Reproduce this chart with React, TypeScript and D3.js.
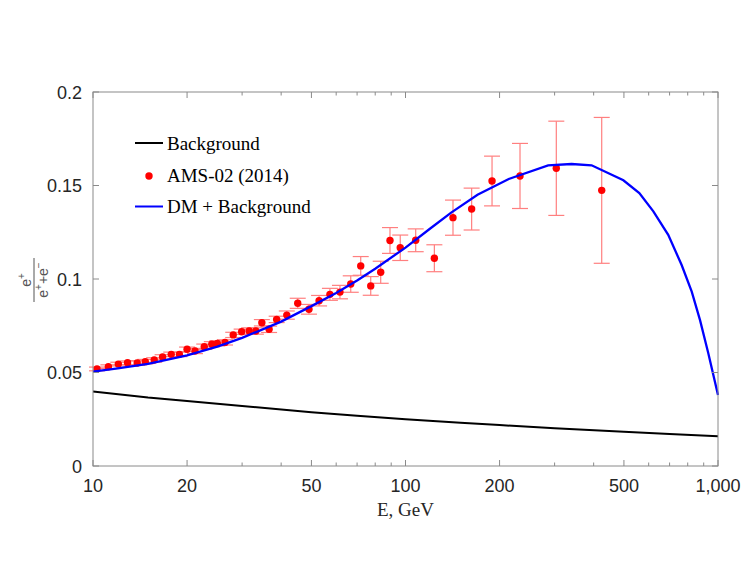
import * as d3 from "d3";

// AMS-02 (2014) positron fraction
const amsEnergy = [
  10.3, 11.2, 12.05, 12.9, 13.85, 14.7, 15.7, 16.7, 17.8, 18.9, 20.0, 21.2, 22.7, 24.0, 25.0,
  26.45, 28.1, 29.9, 31.6, 33.2, 34.7, 36.6, 38.7, 41.7, 45.2, 49.1, 52.9, 57.3, 61.7, 66.8,
  71.9, 77.4, 83.3, 89.2, 96.2, 107.8, 123.7, 141.9, 162.8, 189.2, 232.5, 303.8, 424.5,
];
const amsFraction = [
  0.0519, 0.0531, 0.0545, 0.0552, 0.0551, 0.0558, 0.0567, 0.0583, 0.0597, 0.0597, 0.0624, 0.0615,
  0.0638, 0.0651, 0.0656, 0.0661, 0.0701, 0.0718, 0.0722, 0.0722, 0.0766, 0.0731, 0.0784, 0.0807,
  0.087, 0.0838, 0.0884, 0.0918, 0.093, 0.0973, 0.107, 0.0963, 0.1036, 0.1206, 0.1167, 0.1207,
  0.1111, 0.1328, 0.1374, 0.1524, 0.1551, 0.1592, 0.1474,
];
const amsError = [
  0.001, 0.001, 0.001, 0.001, 0.0012, 0.0012, 0.0012, 0.0012, 0.0012, 0.0012, 0.0012, 0.0014,
  0.0014, 0.0014, 0.0014, 0.0014, 0.0014, 0.0014, 0.0017, 0.0017, 0.0017, 0.0017, 0.0017, 0.0022,
  0.0027, 0.0026, 0.0028, 0.0032, 0.0036, 0.0044, 0.005, 0.005, 0.0059, 0.0069, 0.0068, 0.0061,
  0.0072, 0.0094, 0.0112, 0.0133, 0.0174, 0.0252, 0.039,
];

// background (secondary positrons)
const bgEnergy = [10, 15, 20, 30, 50, 70, 100, 150, 200, 300, 500, 700, 1000];
const bgFraction = [
  0.0398, 0.0366, 0.0348, 0.0321, 0.0288, 0.0269, 0.025, 0.0231, 0.0219, 0.0202, 0.0183, 0.0171,
  0.0159,
];

// DM + background model
const dmEnergy = [
  10, 12, 15, 20, 25, 30, 40, 50, 60, 70, 80, 100, 120, 140, 170, 214, 286, 340, 394, 498, 560,
  621, 693, 765, 824, 876, 931, 1000,
];
const dmFraction = [
  0.0505, 0.0522, 0.0546, 0.0592, 0.0638, 0.0685, 0.0772, 0.0855, 0.0925, 0.0992, 0.1055, 0.1168,
  0.127, 0.1355, 0.145, 0.1535, 0.1608, 0.1615, 0.1608, 0.1528, 0.1459, 0.1362, 0.1236, 0.1075,
  0.0932, 0.078, 0.0603, 0.038,
];

const xTickValues = [10, 20, 50, 100, 200, 500, 1000];
const xTickLabels = ["10", "20", "50", "100", "200", "500", "1,000"];
const yTickValues = [0, 0.05, 0.1, 0.15, 0.2];
const yTickLabels = ["0", "0.05", "0.1", "0.15", "0.2"];

const W = 747;
const H = 578;
const left = 93;
const right = 718;
const top = 92;
const bottom = 466;

export default function App() {
  const x = d3.scaleLog().domain([10, 1000]).range([left, right]);
  const y = d3.scaleLinear().domain([0, 0.2]).range([bottom, top]);

  const line = d3
    .line<[number, number]>()
    .x((d) => x(d[0]))
    .y((d) => y(d[1]));

  const bgPath = line(bgEnergy.map((e, i) => [e, bgFraction[i]]));
  const dmPath = line(dmEnergy.map((e, i) => [e, dmFraction[i]]));

  // minor ticks on every 1..9 multiple
  const minorX: number[] = [];
  [10, 100].forEach((dec) => {
    for (let k = 2; k <= 9; k++) {
      const v = dec * k;
      if (!xTickValues.includes(v)) minorX.push(v);
    }
  });

  const axisColor = "#8a8a8a";
  const labelColor = "#262626";
  const sans = "'Liberation Sans', Arial, sans-serif";
  const serif = "'Liberation Serif', 'Times New Roman', serif";

  return (
    <svg
      width={W}
      height={H}
      style={{ position: "absolute", left: 0, top: 0, background: "#fff" }}
    >
      {/* background curve */}
      <path d={bgPath ?? ""} fill="none" stroke="#000" strokeWidth={2} />

      {/* error bars */}
      <g stroke="#ff7f7f" strokeWidth={1.2}>
        {amsEnergy.map((e, i) => {
          const cx = x(e);
          const y0 = y(amsFraction[i] - amsError[i]);
          const y1 = y(amsFraction[i] + amsError[i]);
          return (
            <g key={i}>
              <line x1={cx} x2={cx} y1={y0} y2={y1} />
              <line x1={cx - 8} x2={cx + 8} y1={y0} y2={y0} />
              <line x1={cx - 8} x2={cx + 8} y1={y1} y2={y1} />
            </g>
          );
        })}
      </g>

      {/* data points */}
      <g fill="#ff0000">
        {amsEnergy.map((e, i) => (
          <circle key={i} cx={x(e)} cy={y(amsFraction[i])} r={3.7} />
        ))}
      </g>

      {/* DM + background */}
      <path d={dmPath ?? ""} fill="none" stroke="#0000ff" strokeWidth={2.3} />

      {/* frame */}
      <rect
        x={left}
        y={top}
        width={right - left}
        height={bottom - top}
        fill="none"
        stroke={axisColor}
        strokeWidth={1}
      />

      {/* ticks */}
      <g stroke={axisColor} strokeWidth={1}>
        {xTickValues.map((v) => (
          <g key={v}>
            <line x1={x(v)} x2={x(v)} y1={bottom} y2={bottom - 6} />
            <line x1={x(v)} x2={x(v)} y1={top} y2={top + 6} />
          </g>
        ))}
        {minorX.map((v) => (
          <g key={v}>
            <line x1={x(v)} x2={x(v)} y1={bottom} y2={bottom - 3.5} />
            <line x1={x(v)} x2={x(v)} y1={top} y2={top + 3.5} />
          </g>
        ))}
        {yTickValues.map((v) => (
          <g key={v}>
            <line x1={left} x2={left + 6} y1={y(v)} y2={y(v)} />
            <line x1={right} x2={right - 6} y1={y(v)} y2={y(v)} />
          </g>
        ))}
      </g>

      {/* tick labels */}
      <g fontFamily={sans} fontSize={18} fill={labelColor}>
        {xTickValues.map((v, i) => (
          <text key={v} x={x(v)} y={492} textAnchor="middle">
            {xTickLabels[i]}
          </text>
        ))}
        {yTickValues.map((v, i) => (
          <text key={v} x={82} y={y(v) + 6.5} textAnchor="end">
            {yTickLabels[i]}
          </text>
        ))}
      </g>

      {/* x label */}
      <text
        x={(left + right) / 2}
        y={516}
        textAnchor="middle"
        fontFamily={serif}
        fontSize={19}
        fill={labelColor}
      >
        E, GeV
      </text>

      {/* y label: e+ / (e+ + e-) */}
      <g transform="translate(34,280) rotate(-90)" fontFamily={sans} fill="#555" fontSize={14}>
        <line x1={-22} x2={22} y1={0} y2={0} stroke="#555" strokeWidth={1} />
        <text x={0} y={-3} textAnchor="middle">
          e<tspan fontSize={10} dy={-6}>+</tspan>
        </text>
        <text x={0} y={14} textAnchor="middle">
          e<tspan fontSize={10} dy={-6}>+</tspan>
          <tspan dy={6}>+e</tspan>
          <tspan fontSize={10} dy={-6}>−</tspan>
        </text>
      </g>

      {/* legend */}
      <g fontFamily={serif} fontSize={19} fill="#000">
        <line x1={135} x2={163} y1={143} y2={143} stroke="#000" strokeWidth={2} />
        <text x={167} y={149.5}>Background</text>
        <circle cx={149} cy={176} r={3.7} fill="#ff0000" />
        <text x={167} y={182}>AMS-02 (2014)</text>
        <line x1={135} x2={163} y1={206.5} y2={206.5} stroke="#0000ff" strokeWidth={2} />
        <text x={167} y={213}>DM + Background</text>
      </g>
    </svg>
  );
}
